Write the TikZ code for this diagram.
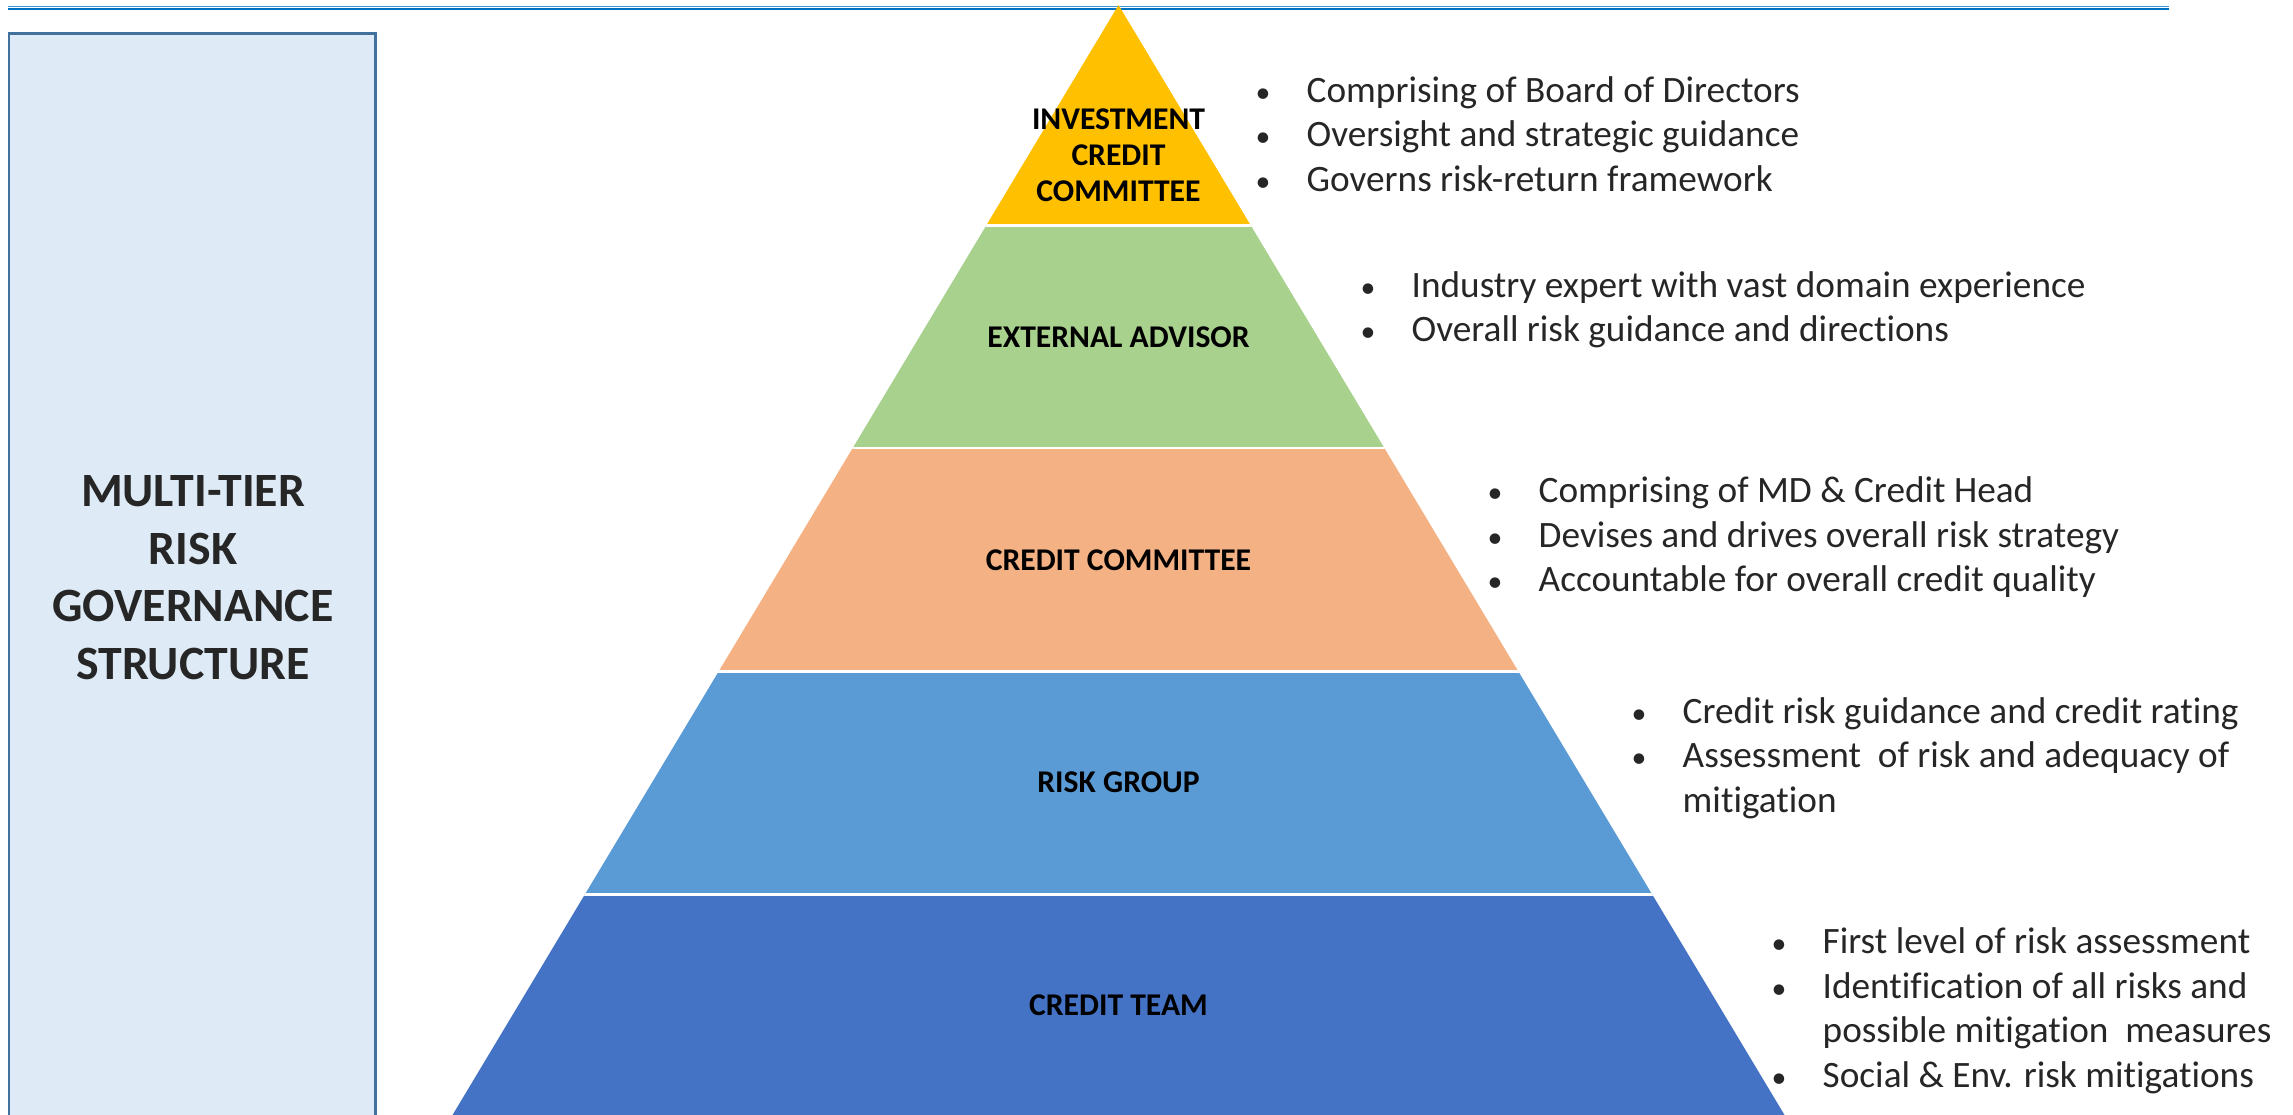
\documentclass[tikz,border=0pt]{standalone}
\usepackage{fontspec}
\setmainfont{Carlito}[Ligatures=NoCommon]
\usepackage{tikz}

\definecolor{iccyellow}{HTML}{FFC000}
\definecolor{advgreen}{HTML}{A9D18E}
\definecolor{ccorange}{HTML}{F4B183}
\definecolor{riskblue}{HTML}{5B9BD5}
\definecolor{teamblue}{HTML}{4472C4}
\definecolor{boxfill}{HTML}{DEEBF7}
\definecolor{boxline}{HTML}{41719C}
\definecolor{rulelight}{HTML}{3A96DD}
\definecolor{ruledark}{HTML}{0070C0}
\definecolor{bodytext}{HTML}{262626}

\newcommand{\bul}{\makebox[0.52cm][l]{\hspace{0.01cm}\scalebox{0.8}{\textbullet}}}
\newcommand{\cont}{\hspace*{0.52cm}}

\tikzset{
  tierlabel/.style={font=\bfseries\fontsize{9}{10.2}\selectfont, text=black, align=center, inner sep=0pt},
  bulletline/.style={font=\fontsize{10.6}{12}\selectfont, text=bodytext, anchor=base west, inner sep=0pt},
  titlebox/.style={font=\bfseries\fontsize{13.6}{16.4}\selectfont, text=bodytext, align=center, inner sep=0pt}
}

\begin{document}
\begin{tikzpicture}
    \useasboundingbox (0,0) rectangle (22.93,-11.15);
    \clip (0,0) rectangle (22.93,-11.15);

    % double rule along the top
    \draw[rulelight, line width=0.5pt] (0.08,-0.065) -- (21.69,-0.065);
    \draw[ruledark, line width=0.75pt] (0.08,-0.09) -- (21.69,-0.09);

    % side panel with the title
    \draw[boxline, fill=boxfill, line width=0.85pt] (0.09,-0.34) rectangle (3.75,-11.4);
    \node[titlebox] (title) at (1.93,-5.775) {MULTI-TIER\\RISK\\GOVERNANCE\\STRUCTURE};

    % the pyramid: clip to the triangle, then fill the bands
    \begin{scope}
        \clip (11.185,-0.05) -- (4.435,-11.3) -- (17.935,-11.3) -- cycle;
        \foreach \ytop/\ybot/\tint in {0.05/2.255/iccyellow, 2.255/4.48/advgreen,
                4.48/6.715/ccorange, 6.715/8.94/riskblue, 8.94/11.3/teamblue}{
            \fill[\tint] (4,-\ytop) rectangle (18.5,-\ybot);
        }
        \foreach \ysep in {2.255,4.48,6.715,8.94}   % white gaps between tiers
            \draw[white, line width=0.85pt] (4,-\ysep) -- (18.5,-\ysep);
    \end{scope}

    \node[tierlabel] (icc) at (11.185,-1.555) {INVESTMENT\\CREDIT\\COMMITTEE};
    \node[tierlabel] (adv) at (11.185,-3.375) {EXTERNAL ADVISOR};
    \node[tierlabel] (cc) at (11.185,-5.6) {CREDIT COMMITTEE};
    \node[tierlabel] (rg) at (11.185,-7.82) {RISK GROUP};
    \node[tierlabel] (ct) at (11.185,-10.05) {CREDIT TEAM};

    % bullet points next to each tier, one node per line
    \foreach \txt [count=\i] in {Comprising of Board of Directors,
            Oversight and strategic guidance, Governs risk-return framework}
        \node[bulletline] (icc-\i) at (12.54,-0.58-0.445*\i) {\bul\txt};
    \foreach \txt [count=\i] in {Industry expert with vast domain experience,
            Overall risk guidance and directions}
        \node[bulletline] (adv-\i) at (13.59,-2.53-0.445*\i) {\bul\txt};
    \foreach \txt [count=\i] in {Comprising of MD \& Credit Head,
            Devises and drives overall risk strategy, Accountable for overall credit quality}
        \node[bulletline] (cc-\i) at (14.86,-4.58-0.445*\i) {\bul\txt};
    \foreach \txt [count=\i] in {\bul Credit risk guidance and credit rating,
            \bul Assessment\ \ of risk and adequacy of, \cont mitigation}
        \node[bulletline] (rg-\i) at (16.30,-6.785-0.445*\i) {\txt};
    \foreach \txt [count=\i] in {\bul First level of risk assessment,
            \bul Identification of all risks and, \cont possible mitigation\ \ measures,
            \bul Social \& Env. risk mitigations}
        \node[bulletline] (ct-\i) at (17.70,-9.09-0.445*\i) {\txt};
\end{tikzpicture}
\end{document}
